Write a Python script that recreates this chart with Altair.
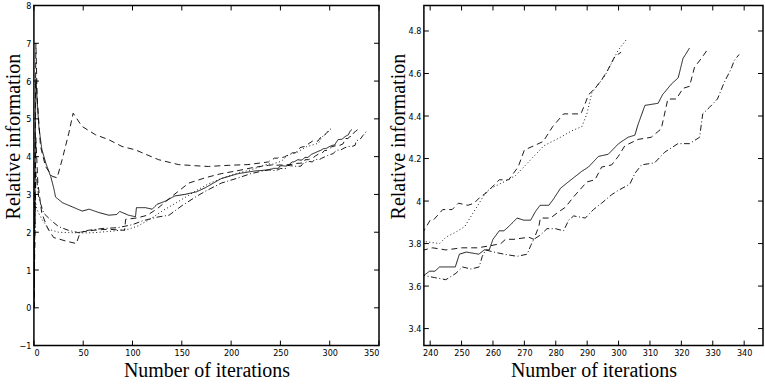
import altair as alt
import pandas as pd

# ---- data (iteration, relative information) per run ----
solid_x = [0, 2, 5, 8, 12, 17, 20, 22, 29, 39, 49, 56, 66, 76, 84, 87, 96, 103, 104, 113, 120, 125, 133, 143, 153, 165, 174, 190, 207, 224,
           238, 239.8, 241.5, 243, 245, 248, 249.3, 251.5, 255.5, 257.2, 258.8, 260, 262, 263.5, 265, 267.7, 269.8, 272, 273.5, 275,
           277.8, 279.3, 281.5, 284, 288.3, 290.4, 293.6, 296.7, 300, 303, 305.2, 306.2, 308.4, 312.6, 314, 316.8, 319, 320.5, 322.6]
solid_y = [0.0, 6.05, 4.8, 4.2, 3.83, 3.48, 3.18, 2.93, 2.78, 2.67, 2.56, 2.61, 2.52, 2.45, 2.47, 2.55, 2.45, 2.41, 2.65, 2.65, 2.61, 2.74, 2.82, 2.96, 3.0, 3.07, 3.18, 3.42, 3.55, 3.62,
           3.65, 3.67, 3.67, 3.69, 3.69, 3.69, 3.75, 3.76, 3.75, 3.77, 3.77, 3.82, 3.86, 3.86, 3.88, 3.92, 3.91, 3.91, 3.95, 3.98,
           3.98, 4.01, 4.06, 4.09, 4.14, 4.16, 4.21, 4.22, 4.27, 4.30, 4.31, 4.36, 4.45, 4.46, 4.50, 4.55, 4.58, 4.67, 4.72]

dashA_x = [0, 2, 3.4, 6.7, 11.8, 18.5, 23.6, 28.6, 35.4, 39.8, 48.8, 62.4, 75.8, 89.3, 102.8, 126.4, 146.6, 163.5, 177, 197, 217, 229,
           238, 240, 241, 244, 247, 249, 252, 254, 256, 258, 262, 265, 268, 270, 273, 276, 279, 282.5, 288, 289.4, 290.4, 292.5,
           294.6, 296.7, 298.8, 300.8]
dashA_y = [0.0, 7.0, 5.5, 4.27, 3.74, 3.48, 3.44, 3.92, 4.62, 5.15, 4.8, 4.58, 4.45, 4.27, 4.18, 3.92, 3.79, 3.76, 3.74, 3.77, 3.79, 3.83,
           3.86, 3.91, 3.91, 3.96, 3.96, 3.99, 3.98, 3.99, 4.02, 4.04, 4.10, 4.10, 4.16, 4.24, 4.26, 4.28, 4.35, 4.41, 4.41, 4.46, 4.50, 4.53,
           4.57, 4.62, 4.68, 4.70]

dotted_x = [0, 1, 3, 8, 15, 25, 35, 50, 62, 80, 96, 106, 118, 130, 147, 164, 177, 190, 205, 220, 232,
            238, 243, 245, 247.7, 251, 253.5, 255.6, 257.7, 259.3, 263.5, 267.2, 269.8, 273, 276.2, 281.5, 285, 288.3, 289.9,
            291.5, 293.6, 295.7, 297.8, 299.9, 302.5]
dotted_y = [0.0, 2.9, 2.6, 2.35, 2.08, 2.0, 1.99, 1.98, 1.99, 2.03, 2.08, 2.17, 2.35, 2.56, 2.82, 3.09, 3.28, 3.42, 3.55, 3.65, 3.76,
            3.81, 3.80, 3.83, 3.85, 3.88, 3.94, 3.99, 4.04, 4.06, 4.09, 4.12, 4.16, 4.21, 4.26, 4.30, 4.33, 4.35, 4.41,
            4.51, 4.55, 4.59, 4.65, 4.71, 4.76]

dashB_x = [0, 2, 4, 8, 14, 20, 32, 43, 47, 60, 75, 92, 93, 105, 115, 125, 140, 157, 175, 190, 205, 220, 232,
           238, 240.8, 245, 250, 255, 259.3, 262.5, 264, 266.7, 271.4, 273, 274.6, 275.1, 278.3, 281, 283, 285.7, 289.9, 292.5,
           294.6, 297.8, 299.9, 302, 306.2, 310.4, 313.6, 315.7, 318.4, 320.5, 322.6, 324.2, 326.3, 328.2]
dashB_y = [0.0, 4.5, 3.3, 2.5, 2.1, 1.86, 1.77, 1.70, 2.0, 2.05, 2.08, 2.05, 2.34, 2.38, 2.45, 2.62, 2.95, 3.3, 3.45, 3.55, 3.62, 3.70, 3.75,
           3.77, 3.78, 3.77, 3.78, 3.78, 3.79, 3.80, 3.82, 3.82, 3.83, 3.82, 3.88, 3.92, 3.92, 3.95, 3.97, 4.02, 4.09, 4.10,
           4.16, 4.17, 4.21, 4.26, 4.29, 4.30, 4.34, 4.48, 4.48, 4.53, 4.54, 4.63, 4.67, 4.71]

dashdot_x = [0, 2, 5, 10, 18, 25, 35, 45, 55, 70, 85, 100, 110, 125, 137, 150, 165, 175, 190, 205, 220, 232,
             238, 241.4, 245, 248.2, 250.3, 253, 255.6, 256.6, 257.7, 260.3, 263.5, 267.7, 270.9, 272, 273, 275.1, 277.2, 279.9,
             282.5, 284.1, 285.7, 289.4, 292, 294.6, 297.8, 299.9, 303.6, 305.2, 307.3, 311.5, 314.7, 318.9, 322.6, 325.8, 326.8,
             328.9, 331.5, 333.7, 335.8, 336.8, 338.4]
dashdot_y = [0.0, 3.6, 2.9, 2.5, 2.3, 2.15, 2.05, 1.99, 2.05, 2.1, 2.12, 2.2, 2.3, 2.4, 2.45, 2.7, 2.95, 3.1, 3.3, 3.42, 3.55, 3.62,
             3.65, 3.64, 3.63, 3.66, 3.69, 3.68, 3.69, 3.74, 3.77, 3.76, 3.75, 3.74, 3.75, 3.79, 3.82, 3.84, 3.87, 3.87,
             3.86, 3.91, 3.93, 3.92, 3.96, 3.99, 4.03, 4.05, 4.08, 4.13, 4.17, 4.18, 4.23, 4.27, 4.27, 4.30, 4.41,
             4.44, 4.48, 4.56, 4.62, 4.66, 4.69]

series_names = ["solid", "dashA", "dotted", "dashB", "dashdot"]
series_dash = [[1, 0], [6, 4], [1, 2.5], [6, 4], [6, 2.5, 1, 2.5]]

left_xticks = [0, 50, 100, 150, 200, 250, 300, 350]
left_yticks = [-1, 0, 1, 2, 3, 4, 5, 6, 7, 8]
right_xticks = [240, 250, 260, 270, 280, 290, 300, 310, 320, 330, 340]
right_yticks = [3.4, 3.6, 3.8, 4.0, 4.2, 4.4, 4.6, 4.8]

rows = []
for name, xs, ys in [("solid", solid_x, solid_y), ("dashA", dashA_x, dashA_y), ("dotted", dotted_x, dotted_y),
                     ("dashB", dashB_x, dashB_y), ("dashdot", dashdot_x, dashdot_y)]:
    for xv, yv in zip(xs, ys):
        rows.append({"x": xv, "y": yv, "s": name})
df = pd.DataFrame(rows)

LABEL_FONT = "Liberation Sans Narrow, DejaVu Sans Condensed, Liberation Sans, sans-serif"
TITLE_FONT = "Liberation Serif, Times New Roman, serif"


def panel(xdom, ydom, xticks, yticks, xfmt, yfmt, W, H, title_x):
    xs = alt.Scale(domain=xdom, nice=False, zero=False)
    ys = alt.Scale(domain=ydom, nice=False, zero=False)
    xax = alt.Axis(values=xticks, format=xfmt, title="Number of iterations",
                   titleBaseline="alphabetic", titleY=31, labelPadding=3)
    yax = alt.Axis(values=yticks, format=yfmt, title="Relative information",
                   titleBaseline="alphabetic", titleX=title_x, titleY=131, labelPadding=3)
    lines = alt.Chart(df).mark_line(clip=True, color="black", strokeWidth=0.9).encode(
        x=alt.X("x:Q", scale=xs, axis=xax),
        y=alt.Y("y:Q", scale=ys, axis=yax),
        strokeDash=alt.StrokeDash("s:N", scale=alt.Scale(domain=series_names, range=series_dash), legend=None),
        order="x:Q",
    )
    xt = pd.DataFrame({"x": xticks})
    yt = pd.DataFrame({"y": yticks})
    bot = alt.Chart(xt).mark_rule(color="black", strokeWidth=1).encode(
        x=alt.X("x:Q", scale=xs, axis=xax), y=alt.value(H), y2=alt.value(H - 5))
    top = alt.Chart(xt).mark_rule(color="black", strokeWidth=1).encode(
        x=alt.X("x:Q", scale=xs, axis=xax), y=alt.value(0), y2=alt.value(5))
    lft = alt.Chart(yt).mark_rule(color="black", strokeWidth=1).encode(
        y=alt.Y("y:Q", scale=ys, axis=yax), x=alt.value(0), x2=alt.value(5))
    rgt = alt.Chart(yt).mark_rule(color="black", strokeWidth=1).encode(
        y=alt.Y("y:Q", scale=ys, axis=yax), x=alt.value(W), x2=alt.value(W - 5))
    return alt.layer(lines, bot, top, lft, rgt).properties(width=W, height=H)


left = panel([0, 350], [-1, 8], left_xticks, left_yticks, "d", "d", 346, 341, -14)
right = panel([238, 346], [3.32, 4.92], right_xticks, right_yticks, "d", ".1~f", 340, 341, -19)

chart = alt.hconcat(left, right, spacing=7).properties(
    padding={"left": 3, "top": 0, "right": 0, "bottom": 0},
    background="white",
).configure_view(stroke="black", strokeWidth=1.5).configure_axis(
    grid=False, domain=False, ticks=False,
    labelFont=LABEL_FONT, labelFontSize=9, labelColor="black",
    titleFont=TITLE_FONT, titleFontSize=20, titleFontWeight="normal", titleColor="black",
)

chart.save("out.html", embed_options={"renderer": "svg", "actions": False})
